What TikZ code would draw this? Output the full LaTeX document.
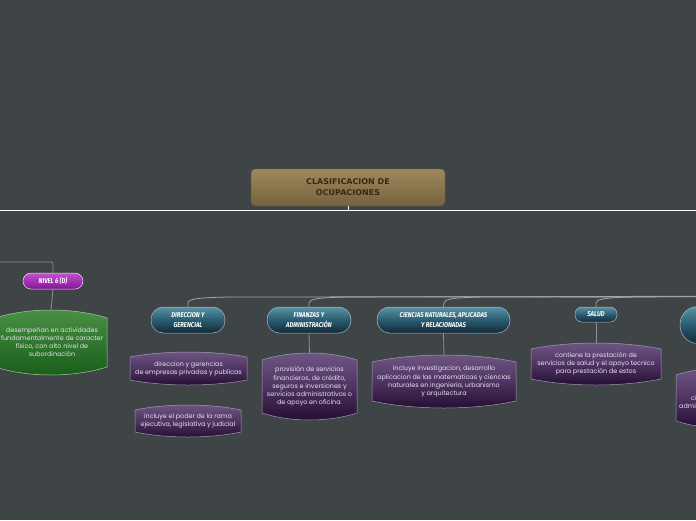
\documentclass[tikz,border=0pt]{standalone}
\usepackage{fontspec}
\setmainfont{Poppins}
\newfontfamily\titlef{DejaVu Sans}
\newfontfamily\headf[FakeStretch=0.85]{Fira Sans}
\definecolor{bg}{RGB}{63,69,70}
\definecolor{titletop}{RGB}{157,136,92}
\definecolor{titlebot}{RGB}{118,98,62}
\definecolor{titletext}{RGB}{58,40,20}
\definecolor{tealtop}{RGB}{88,146,165}
\definecolor{tealmid}{RGB}{42,92,112}
\definecolor{tealbot}{RGB}{18,42,56}
\definecolor{tealborder}{RGB}{175,185,190}
\definecolor{ptop}{RGB}{112,88,134}
\definecolor{pmid}{RGB}{78,52,98}
\definecolor{pbot}{RGB}{34,12,48}
\definecolor{pborder}{RGB}{165,155,175}
\definecolor{mtop}{RGB}{196,80,206}
\definecolor{mbot}{RGB}{128,22,150}
\definecolor{gtop}{RGB}{74,146,70}
\definecolor{gbot}{RGB}{24,92,24}
\definecolor{gborder}{RGB}{170,200,170}
\definecolor{leaftextc}{RGB}{232,226,238}
\definecolor{conncol}{RGB}{140,146,146}
\definecolor{trunkcol}{RGB}{160,165,165}
\newcommand\leafshape[7]{%
  \path[#7] (#2,{#3+#6}) .. controls ({#2+(#4-(#2))*0.3},{#3-#6/3}) and ({#4-(#4-(#2))*0.3},{#3-#6/3}) .. (#4,{#3+#6})
    -- (#4,{#5-#6}) .. controls ({#4-(#4-(#2))*0.3},{#5+#6/3}) and ({#2+(#4-(#2))*0.3},{#5+#6/3}) .. (#2,{#5-#6}) -- cycle;
  \coordinate (#1-n) at ({(#2+#4)/2},#3);
  \coordinate (#1-c) at ({(#2+#4)/2},{(#3+#5)/2});
}
\tikzset{
  titlebox/.style={rounded corners=4pt, top color=titletop, bottom color=titlebot, draw=titlebot!85!black,
    minimum width=194pt, minimum height=37pt, inner sep=0pt,
    font=\titlef\bfseries\fontsize{8}{11}\selectfont, text=titletext, align=center},
  headbox/.style={top color=tealtop, bottom color=tealbot, middle color=tealmid, draw=tealborder, line width=0.5pt,
    inner sep=0pt, font=\headf\bfseries\itshape\fontsize{7}{10}\selectfont, text=white, align=center},
  leaftext/.style={font=\fontsize{6.4}{8.2}\selectfont, text=leaftextc, align=center, inner sep=0pt},
  purpleleaf/.style={top color=ptop, bottom color=pbot, middle color=pmid, draw=pborder, line width=0.5pt},
  greenleaf/.style={top color=gtop, bottom color=gbot, draw=gborder, line width=0.5pt},
  conn/.style={draw=conncol, line width=0.8pt},
  trunk/.style={draw=trunkcol, line width=0.8pt},
}
\begin{document}
\begin{tikzpicture}[x=1pt,y=-1pt]
\useasboundingbox (0,0) rectangle (696,520);
\fill[bg] (0,0) rectangle (696,520);
% top line
\coordinate (wl) at (0,210);
\coordinate (wr) at (696,210);
\draw[white, line width=1pt] (wl) -- (wr);
\node[titlebox] (main) at (348,187.5) {CLASIFICACION DE\\OCUPACIONES};
\draw[white, line width=0.8pt] (main.south) -- (main.south |- wl);
% left branch
\coordinate (gl) at (0,262);
\node[headbox, top color=mtop, bottom color=mbot, middle color=mtop!50!mbot, draw=white!80!mtop,
  minimum width=60pt, minimum height=16pt, rounded corners=8pt] (nivel) at (53,281) {NIVEL 6 (D)};
\draw[conn, rounded corners=2pt] (gl) -| (nivel.north);
\leafshape{g1}{-5}{310}{107}{375}{8}{greenleaf}
\node[leaftext] (g1t) at (52,342) {desempeñan en actividades\\fundamentalmente de caracter\\físico, con alto nivel de\\subordinación};
\draw[conn] (nivel.south) -- (g1-n);
% branch nodes
\node[headbox, minimum width=74pt, minimum height=26pt, rounded corners=12.5pt] (dir) at (188,320) {DIRECCION Y\\GERENCIAL};
\node[headbox, minimum width=84pt, minimum height=26pt, rounded corners=12.5pt] (fin) at (309,320) {FINANZAS Y\\ADMINISTRACIÓN};
\node[headbox, minimum width=133pt, minimum height=26pt, rounded corners=12.5pt] (cie) at (443.5,320) {CIENCIAS NATURALES, APLICADAS\\Y RELACIONADAS};
\node[headbox, minimum width=42pt, minimum height=15pt, rounded corners=7pt] (sal) at (596,314.5) {SALUD};
\node[headbox, minimum width=84pt, minimum height=37pt, rounded corners=18pt] (rgt) at (722,325) {};
% trunk
\coordinate (tr) at (697,296.5);
\draw[trunk] (tr) -- (230,297) .. controls (198,297.5) and (188,299) .. (188,303) -- (dir.north);
\draw[trunk] (tr) -- (350,297) .. controls (318,297.5) and (309,299) .. (309,303) -- (fin.north);
\draw[trunk] (tr) -- (485,297) .. controls (453,297.5) and (444,299) .. (444,303) -- (cie.north);
\draw[trunk] (tr) -- (636,297) .. controls (605,297.5) and (596,299) .. (596,303) -- (sal.north);
\draw[trunk, line width=1.2pt] (tr) -- (560,296.7);
% leaves
\leafshape{l1}{130}{352}{247}{385}{5}{purpleleaf}
\node[leaftext] (l1t) at (l1-c) {direccion y gerencias\\de empresas privadas y publicas};
\leafshape{l2}{135}{405}{241}{437}{5}{purpleleaf}
\node[leaftext] (l2t) at (l2-c) {incluye el poder de la rama\\ejecutiva, legislativa y judicial};
\leafshape{l3}{262}{353}{357}{420}{7}{purpleleaf}
\node[leaftext] (l3t) at (l3-c) {provisión de servicios\\financieros, de crédito,\\seguros e inversiones y\\servicios administrativos o\\de apoyo en oficina.};
\draw[conn] (fin.south) -- (l3-n);
\leafshape{l4}{372}{355}{516}{408}{7}{purpleleaf}
\node[leaftext] (l4t) at (l4-c) {incluye investigacion, desarrollo\\aplicacion de las matematicas y ciencias\\naturales en ingenieria, urbanismo\\y arquitectura};
\draw[conn] (cie.south) -- (l4-n);
\leafshape{l5}{531}{343}{661}{385}{6}{purpleleaf}
\node[leaftext] (l5t) at (l5-c) {contiene la prestación de\\servicios de salud y el apoyo tecnico\\para prestación de estos};
\draw[conn] (sal.south) -- (l5-n);
\leafshape{l6}{676}{368}{770}{428}{7}{purpleleaf}
\node[leaftext, anchor=west] (l6a) at (691,398) {ci};
\node[leaftext, anchor=west] (l6b) at (679,406) {admi};
\end{tikzpicture}
\end{document}
